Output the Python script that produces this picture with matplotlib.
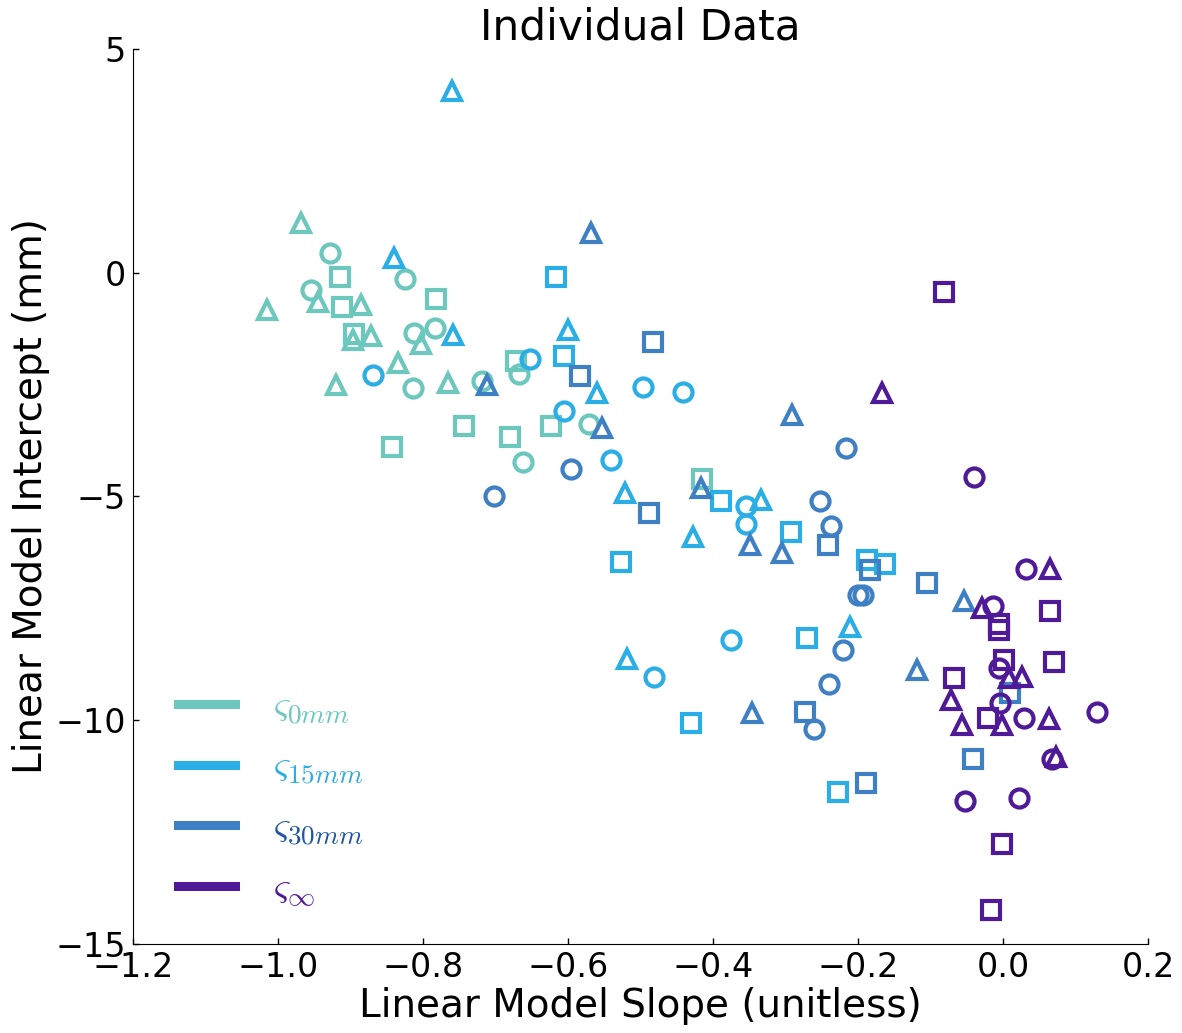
import matplotlib
matplotlib.use("Agg")
import matplotlib.pyplot as plt

plt.rcParams['mathtext.fontset'] = 'cm'

# slope / intercept per condition, split by marker shape
slope_0_circ = [-0.928, -0.825, -0.954, -0.812, -0.784, -0.668, -0.814, -0.719, -0.571, -0.662]
icpt_0_circ = [0.44, -0.14, -0.39, -1.34, -1.24, -2.27, -2.57, -2.41, -3.39, -4.22]
slope_0_sq = [-0.914, -0.912, -0.782, -0.895, -0.672, -0.743, -0.843, -0.680, -0.623, -0.415]
icpt_0_sq = [-0.09, -0.76, -0.59, -1.37, -1.97, -3.42, -3.89, -3.68, -3.42, -4.62]
slope_0_tri = [-0.968, -0.945, -0.886, -1.015, -0.896, -0.871, -0.803, -0.834, -0.920, -0.765]
icpt_0_tri = [1.11, -0.65, -0.72, -0.83, -1.50, -1.41, -1.59, -2.02, -2.51, -2.47]

slope_15_circ = [-0.652, -0.869, -0.497, -0.442, -0.606, -0.540, -0.354, -0.355, -0.375, -0.482]
icpt_15_circ = [-1.93, -2.28, -2.55, -2.66, -3.10, -4.18, -5.21, -5.61, -8.21, -9.03]
slope_15_sq = [-0.616, -0.606, -0.389, -0.527, -0.292, -0.187, -0.163, -0.270, -0.430, -0.227]
icpt_15_sq = [-0.09, -1.87, -5.10, -6.46, -5.79, -6.43, -6.51, -8.16, -10.07, -11.60]
slope_15_tri = [-0.760, -0.840, -0.758, -0.600, -0.560, -0.522, -0.334, -0.427, -0.211, -0.518]
icpt_15_tri = [4.06, 0.33, -1.39, -1.28, -2.69, -4.93, -5.08, -5.90, -7.91, -8.63]

slope_30_circ = [-0.596, -0.217, -0.702, -0.252, -0.237, -0.200, -0.193, -0.221, -0.240, -0.260]
icpt_30_circ = [-4.39, -3.91, -4.99, -5.10, -5.67, -7.20, -7.20, -8.43, -9.20, -10.20]
slope_30_sq = [-0.583, -0.483, -0.488, -0.242, -0.183, -0.105, 0.010, -0.273, -0.041, -0.189]
icpt_30_sq = [-2.31, -1.54, -5.36, -6.08, -6.64, -6.93, -9.40, -9.82, -10.87, -11.41]
slope_30_tri = [-0.568, -0.712, -0.553, -0.291, -0.416, -0.349, -0.305, -0.054, -0.118, -0.346]
icpt_30_tri = [0.89, -2.51, -3.48, -3.18, -4.82, -6.08, -6.27, -7.33, -8.88, -9.84]

slope_inf_circ = [-0.040, 0.032, -0.014, -0.006, -0.004, 0.029, 0.130, 0.068, -0.052, 0.022]
icpt_inf_circ = [-4.57, -6.63, -7.45, -8.84, -9.61, -9.94, -9.82, -10.87, -11.80, -11.74]
slope_inf_sq = [-0.081, 0.065, -0.005, -0.005, 0.002, -0.067, 0.070, -0.021, -0.001, -0.016]
icpt_inf_sq = [-0.42, -7.56, -7.84, -7.99, -8.65, -9.05, -8.69, -9.96, -12.77, -14.24]
slope_inf_tri = [-0.167, 0.065, -0.029, 0.008, 0.026, -0.072, -0.057, -0.002, 0.063, 0.073]
icpt_inf_tri = [-2.69, -6.63, -7.50, -9.06, -9.03, -9.55, -10.11, -10.11, -9.98, -10.83]

labels = [r'$\varsigma_{0mm}$', r'$\varsigma_{15mm}$', r'$\varsigma_{30mm}$', r'$\varsigma_{\infty}$']
colors = ['#6cc7bd', '#2aaee5', '#3f80c4', '#4f1a98']
text_colors = ['#6cc7bd', '#2aaee5', '#1f55a8', '#4f1a98']

groups = [
    [(slope_0_circ, icpt_0_circ), (slope_0_sq, icpt_0_sq), (slope_0_tri, icpt_0_tri)],
    [(slope_15_circ, icpt_15_circ), (slope_15_sq, icpt_15_sq), (slope_15_tri, icpt_15_tri)],
    [(slope_30_circ, icpt_30_circ), (slope_30_sq, icpt_30_sq), (slope_30_tri, icpt_30_tri)],
    [(slope_inf_circ, icpt_inf_circ), (slope_inf_sq, icpt_inf_sq), (slope_inf_tri, icpt_inf_tri)],
]
markers = ['o', 's', '^']

fig = plt.figure(figsize=(11.82, 10.33), dpi=100)
ax = fig.add_axes([0.1125, 0.0862, 0.8587, 0.8664])

for grp, c in zip(groups, colors):
    for (xs, ys), m in zip(grp, markers):
        ax.plot(xs, ys, linestyle='none', marker=m, markersize=13,
                markerfacecolor='none', markeredgecolor=c, markeredgewidth=3)

handles = [ax.plot([], [], color=c, lw=6.5)[0] for c in colors]
leg = ax.legend(handles, labels, loc='lower left', bbox_to_anchor=(0.01, 0.0),
                frameon=False, fontsize=28, handlelength=1.45, handletextpad=1.0,
                labelspacing=0.55)
for t, c in zip(leg.get_texts(), text_colors):
    t.set_color(c)

ax.set_xlim(-1.2, 0.2)
ax.set_ylim(-15, 5)
ax.set_xticks([-1.2, -1.0, -0.8, -0.6, -0.4, -0.2, 0.0, 0.2])
ax.set_yticks([-15, -10, -5, 0, 5])
ax.spines['top'].set_visible(False)
ax.spines['right'].set_visible(False)
ax.xaxis.set_ticks_position('bottom')
ax.yaxis.set_ticks_position('left')
ax.tick_params(direction='in', length=4.5, width=1, labelsize=24, pad=5)

ax.set_xlabel('Linear Model Slope (unitless)', fontsize=28, labelpad=2)
ax.set_ylabel('Linear Model Intercept (mm)', fontsize=28, labelpad=4)
ax.set_title('Individual Data', fontsize=30.5, pad=4)

fig.savefig('out.png', dpi=100)
